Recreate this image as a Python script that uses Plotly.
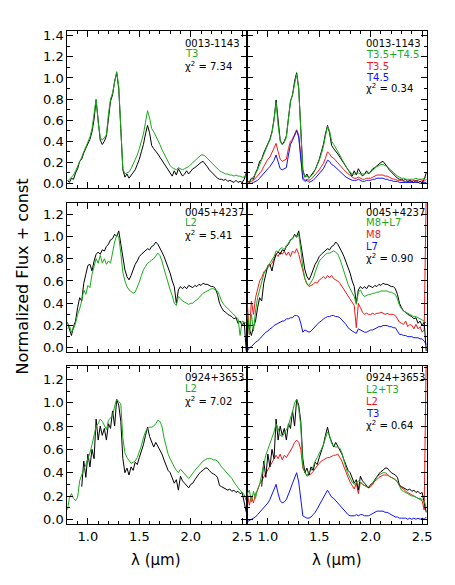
import plotly.graph_objects as go

# ---------------- data ----------------
WL = [0.80, 0.82, 0.84, 0.86, 0.88, 0.90, 0.92, 0.94, 0.96, 0.98,
      1.00, 1.02, 1.04, 1.06, 1.08, 1.10, 1.12, 1.14, 1.16, 1.18,
      1.20, 1.22, 1.24, 1.26, 1.28, 1.30, 1.32, 1.34, 1.36, 1.38,
      1.40, 1.42, 1.44, 1.46, 1.48, 1.50, 1.52, 1.54, 1.56, 1.58,
      1.60, 1.62, 1.64, 1.66, 1.68, 1.70, 1.72, 1.74, 1.76, 1.78,
      1.80, 1.82, 1.84, 1.86, 1.88, 1.90, 1.92, 1.94, 1.96, 1.98,
      2.00, 2.02, 2.04, 2.06, 2.08, 2.10, 2.12, 2.14, 2.16, 2.18,
      2.20, 2.22, 2.24, 2.26, 2.28, 2.30, 2.32, 2.34, 2.36, 2.38,
      2.40, 2.42, 2.44, 2.46, 2.48, 2.50, 2.52, 2.54]

# Row 1: 0013-1143
OBJ_0013 = [0.03, 0.01, 0.05, 0.04, 0.10, 0.14, 0.21, 0.23, 0.29, 0.33,
            0.38, 0.42, 0.49, 0.61, 0.79, 0.56, 0.41, 0.37, 0.40, 0.45,
            0.65, 0.78, 0.84, 0.97, 1.05, 0.90, 0.52, 0.13, 0.06, 0.09,
            0.05, 0.08, 0.10, 0.13, 0.18, 0.23, 0.30, 0.37, 0.47, 0.55,
            0.48, 0.36, 0.33, 0.31, 0.28, 0.25, 0.22, 0.18, 0.15, 0.12,
            0.09, 0.07, 0.12, 0.08, 0.14, 0.11, 0.07, 0.09, 0.12, 0.09,
            0.12, 0.14, 0.15, 0.17, 0.19, 0.20, 0.21, 0.19, 0.16, 0.13,
            0.11, 0.08, 0.07, 0.05, 0.04, 0.04, 0.03, 0.04, 0.02, 0.03,
            0.02, 0.01, 0.03, 0.01, 0.02, 0.01, 0.04, 0.10]
T3_SINGLE = [0.02, 0.04, 0.06, 0.08, 0.12, 0.16, 0.20, 0.25, 0.30, 0.35,
             0.39, 0.44, 0.52, 0.64, 0.80, 0.58, 0.44, 0.41, 0.43, 0.46,
             0.66, 0.80, 0.86, 0.98, 1.06, 0.92, 0.55, 0.14, 0.09, 0.10,
             0.11, 0.14, 0.18, 0.22, 0.27, 0.33, 0.39, 0.47, 0.58, 0.69,
             0.62, 0.52, 0.49, 0.45, 0.42, 0.37, 0.32, 0.28, 0.24, 0.20,
             0.17, 0.15, 0.14, 0.13, 0.15, 0.14, 0.13, 0.14, 0.15, 0.16,
             0.18, 0.20, 0.22, 0.24, 0.26, 0.27, 0.27, 0.26, 0.24, 0.22,
             0.20, 0.18, 0.16, 0.14, 0.12, 0.11, 0.10, 0.09, 0.09, 0.08,
             0.08, 0.07, 0.08, 0.07, 0.07, 0.06, 0.06, 0.09]
T35_T45 = [0.01, 0.02, 0.04, 0.06, 0.09, 0.13, 0.18, 0.22, 0.27, 0.32,
           0.37, 0.41, 0.48, 0.60, 0.77, 0.55, 0.40, 0.37, 0.39, 0.44,
           0.63, 0.78, 0.84, 0.96, 1.04, 0.90, 0.53, 0.12, 0.06, 0.07,
           0.05, 0.07, 0.09, 0.13, 0.17, 0.22, 0.28, 0.35, 0.45, 0.54,
           0.50, 0.40, 0.37, 0.34, 0.30, 0.27, 0.23, 0.19, 0.16, 0.13,
           0.11, 0.09, 0.09, 0.09, 0.10, 0.09, 0.09, 0.09, 0.10, 0.10,
           0.11, 0.13, 0.14, 0.16, 0.17, 0.18, 0.18, 0.17, 0.16, 0.14,
           0.12, 0.10, 0.08, 0.07, 0.06, 0.05, 0.05, 0.04, 0.04, 0.04,
           0.04, 0.04, 0.05, 0.04, 0.04, 0.04, 0.05, 0.06]
T35 = [0.00, 0.01, 0.02, 0.03, 0.05, 0.07, 0.09, 0.12, 0.16, 0.20,
       0.23, 0.25, 0.29, 0.33, 0.38, 0.30, 0.23, 0.21, 0.22, 0.23,
       0.33, 0.40, 0.42, 0.47, 0.51, 0.46, 0.28, 0.06, 0.03, 0.04,
       0.03, 0.04, 0.06, 0.08, 0.10, 0.13, 0.16, 0.19, 0.24, 0.30,
       0.28, 0.25, 0.24, 0.22, 0.20, 0.18, 0.15, 0.13, 0.11, 0.09,
       0.07, 0.06, 0.05, 0.05, 0.06, 0.05, 0.04, 0.04, 0.05, 0.05,
       0.05, 0.06, 0.07, 0.08, 0.08, 0.08, 0.08, 0.07, 0.07, 0.06,
       0.05, 0.04, 0.04, 0.03, 0.03, 0.03, 0.02, 0.02, 0.02, 0.02,
       0.02, 0.03, 0.02, 0.03, 0.04, 0.03, 0.02, 0.04]
T45 = [0.00, 0.00, 0.00, 0.01, 0.02, 0.03, 0.05, 0.07, 0.09, 0.12,
       0.14, 0.16, 0.19, 0.22, 0.27, 0.20, 0.14, 0.13, 0.14, 0.15,
       0.27, 0.37, 0.41, 0.46, 0.50, 0.44, 0.26, 0.04, 0.02, 0.03,
       0.01, 0.02, 0.03, 0.05, 0.07, 0.09, 0.11, 0.14, 0.18, 0.22,
       0.21, 0.18, 0.17, 0.15, 0.13, 0.11, 0.10, 0.08, 0.06, 0.05,
       0.04, 0.03, 0.03, 0.03, 0.04, 0.03, 0.02, 0.02, 0.03, 0.03,
       0.03, 0.04, 0.04, 0.05, 0.05, 0.05, 0.05, 0.04, 0.04, 0.03,
       0.03, 0.02, 0.02, 0.02, 0.01, 0.01, 0.01, 0.01, 0.01, 0.01,
       0.01, 0.01, 0.01, 0.01, 0.00, 0.01, 0.01, 0.01]

# Row 2: 0045+4237
OBJ_0045 = [0.23, 0.17, 0.11, 0.19, 0.24, 0.36, 0.45, 0.42, 0.58, 0.66,
            0.74, 0.75, 0.69, 0.78, 0.84, 0.86, 0.84, 0.88, 0.87, 0.91,
            0.93, 0.97, 0.98, 1.02, 1.00, 1.05, 0.92, 0.82, 0.70, 0.64,
            0.61, 0.65, 0.70, 0.75, 0.78, 0.82, 0.84, 0.86, 0.87, 0.89,
            0.88, 0.91, 0.92, 0.95, 0.93, 0.90, 0.86, 0.82, 0.77, 0.72,
            0.67, 0.60, 0.55, 0.40, 0.52, 0.55, 0.53, 0.55, 0.53, 0.56,
            0.55, 0.54, 0.56, 0.55, 0.57, 0.56, 0.58, 0.57, 0.57, 0.56,
            0.55, 0.55, 0.53, 0.48, 0.40, 0.36, 0.33, 0.32, 0.30, 0.29,
            0.28, 0.26, 0.27, 0.22, 0.24, 0.20, 0.23, -0.03]
L2_ROW2 = [0.17, 0.20, 0.14, 0.17, 0.22, 0.30, 0.35, 0.42, 0.52, 0.48,
           0.56, 0.54, 0.66, 0.72, 0.80, 0.76, 0.83, 0.76, 0.80, 0.75,
           0.78, 0.76, 0.86, 0.95, 1.01, 1.00, 0.85, 0.68, 0.60, 0.55,
           0.52, 0.50, 0.49, 0.50, 0.54, 0.59, 0.65, 0.70, 0.73, 0.76,
           0.77, 0.79, 0.80, 0.83, 0.85, 0.83, 0.78, 0.71, 0.64, 0.58,
           0.52, 0.47, 0.40, 0.38, 0.46, 0.44, 0.42, 0.41, 0.40, 0.39,
           0.40, 0.40, 0.42, 0.43, 0.45, 0.47, 0.49, 0.50, 0.51, 0.52,
           0.53, 0.53, 0.52, 0.51, 0.47, 0.42, 0.39, 0.37, 0.35, 0.34,
           0.32, 0.30, 0.28, 0.26, 0.11, 0.24, 0.23, 0.22]
M8_L7 = [0.32, 0.12, 0.30, 0.15, 0.33, 0.45, 0.52, 0.60, 0.66, 0.70,
         0.73, 0.75, 0.78, 0.82, 0.87, 0.86, 0.89, 0.90, 0.88, 0.92,
         0.94, 0.97, 0.98, 1.01, 0.99, 1.02, 0.88, 0.72, 0.62, 0.57,
         0.56, 0.59, 0.62, 0.68, 0.73, 0.78, 0.80, 0.82, 0.84, 0.85,
         0.85, 0.86, 0.87, 0.86, 0.84, 0.80, 0.74, 0.68, 0.62, 0.57,
         0.53, 0.50, 0.46, 0.39, 0.50, 0.52, 0.48, 0.46, 0.47, 0.48,
         0.48, 0.49, 0.49, 0.50, 0.50, 0.51, 0.51, 0.51, 0.51, 0.50,
         0.50, 0.49, 0.48, 0.44, 0.38, 0.35, 0.33, 0.32, 0.31, 0.30,
         0.29, 0.28, 0.28, 0.27, 0.26, 0.25, 0.24, 0.22]
M8 = [0.40, 0.12, 0.42, 0.30, 0.45, 0.52, 0.60, 0.63, 0.68, 0.70,
      0.72, 0.74, 0.76, 0.80, 0.84, 0.82, 0.86, 0.84, 0.87, 0.83,
      0.86, 0.82, 0.87, 0.85, 0.89, 0.84, 0.76, 0.68, 0.62, 0.58,
      0.55, 0.56, 0.57, 0.59, 0.58, 0.61, 0.62, 0.64, 0.62, 0.65,
      0.63, 0.65, 0.62, 0.61, 0.60, 0.58, 0.55, 0.53, 0.49, 0.46,
      0.44, 0.41, 0.38, 0.18, 0.40, 0.36, 0.32, 0.30, 0.31, 0.30,
      0.30, 0.31, 0.30, 0.31, 0.31, 0.32, 0.31, 0.30, 0.31, 0.30,
      0.30, 0.30, 0.29, 0.26, 0.23, 0.22, 0.21, 0.24, 0.19, 0.21,
      0.20, 0.17, 0.21, 0.17, 0.19, 0.14, 0.16, 1.40]
L7 = [-0.03, 0.00, 0.01, 0.03, 0.05, 0.06, 0.08, 0.10, 0.12, 0.14,
      0.15, 0.17, 0.18, 0.20, 0.21, 0.22, 0.23, 0.24, 0.24, 0.26,
      0.26, 0.27, 0.27, 0.29, 0.29, 0.28, 0.22, 0.14, 0.16, 0.15,
      0.14, 0.15, 0.17, 0.19, 0.21, 0.23, 0.24, 0.26, 0.27, 0.28,
      0.28, 0.29, 0.29, 0.28, 0.28, 0.27, 0.25, 0.23, 0.21, 0.18,
      0.16, 0.15, 0.14, 0.13, 0.17, 0.16, 0.15, 0.14, 0.14, 0.15,
      0.16, 0.16, 0.17, 0.18, 0.19, 0.19, 0.20, 0.20, 0.20, 0.19,
      0.19, 0.18, 0.18, 0.15, 0.12, 0.12, 0.11, 0.11, 0.10, 0.10,
      0.10, 0.09, 0.09, 0.09, 0.08, 0.08, 0.06, 0.03]

# Row 3: 0924+3653
OBJ_0924 = [None, None, None, None, None, None, None, 0.28, 0.50, 0.36,
            0.56, 0.45, 0.60, 0.52, 0.86, 0.68, 0.80, 0.72, 0.78, 0.68,
            0.82, 0.78, 0.93, 0.80, 1.03, 0.98, 0.84, 0.52, 0.40, 0.44,
            0.38, 0.45, 0.42, 0.49, 0.47, 0.53, 0.58, 0.64, 0.72, 0.79,
            0.71, 0.66, 0.62, 0.66, 0.63, 0.60, 0.56, 0.51, 0.46, 0.42,
            0.40, 0.36, 0.31, 0.34, 0.25, 0.37, 0.33, 0.31, 0.29, 0.27,
            0.30, 0.31, 0.34, 0.37, 0.39, 0.41, 0.42, 0.44, 0.44, 0.42,
            0.40, 0.39, 0.38, 0.36, 0.29, 0.28, 0.27, 0.26, 0.25, 0.26,
            0.24, 0.25, 0.23, 0.24, 0.22, 0.23, 0.15, 0.06]
L2_ROW3 = [0.08, 0.18, 0.22, 0.18, 0.16, 0.19, 0.33, 0.39, 0.43, 0.47,
           0.52, 0.57, 0.64, 0.71, 0.80, 0.82, 0.86, 0.84, 0.80, 0.77,
           0.85, 0.87, 0.89, 0.97, 1.03, 1.01, 0.99, 0.70, 0.57, 0.53,
           0.50, 0.48, 0.49, 0.50, 0.53, 0.58, 0.63, 0.70, 0.75, 0.78,
           0.79, 0.79, 0.80, 0.82, 0.85, 0.84, 0.80, 0.70, 0.62, 0.56,
           0.52, 0.48, 0.45, 0.42, 0.40, 0.43, 0.41, 0.39, 0.37, 0.35,
           0.37, 0.40, 0.42, 0.44, 0.46, 0.48, 0.50, 0.51, 0.52, 0.52,
           0.52, 0.51, 0.51, 0.50, 0.47, 0.45, 0.43, 0.41, 0.39, 0.37,
           0.35, 0.32, 0.29, 0.27, 0.25, 0.23, 0.21, 0.16]
L2_T3 = [0.22, 0.25, 0.15, 0.24, 0.18, 0.26, 0.30, 0.38, 0.45, 0.55,
         0.60, 0.66, 0.70, 0.75, 0.82, 0.78, 0.72, 0.71, 0.74, 0.76,
         0.80, 0.87, 0.92, 1.00, 1.03, 0.95, 0.80, 0.45, 0.40, 0.38,
         0.40, 0.42, 0.45, 0.50, 0.53, 0.56, 0.60, 0.64, 0.70, 0.75,
         0.72, 0.65, 0.63, 0.62, 0.62, 0.61, 0.57, 0.50, 0.44, 0.39,
         0.35, 0.32, 0.30, 0.31, 0.33, 0.32, 0.30, 0.29, 0.28, 0.28,
         0.29, 0.31, 0.34, 0.36, 0.38, 0.39, 0.40, 0.40, 0.39, 0.37,
         0.36, 0.35, 0.34, 0.32, 0.28, 0.25, 0.24, 0.23, 0.22, 0.21,
         0.20, 0.20, 0.19, 0.18, 0.18, 0.17, 0.16, 0.10]
L2_COMP = [0.23, 0.12, 0.20, 0.14, 0.22, 0.25, 0.30, 0.33, 0.37, 0.40,
           0.43, 0.46, 0.48, 0.51, 0.55, 0.52, 0.56, 0.51, 0.55, 0.53,
           0.56, 0.58, 0.62, 0.66, 0.68, 0.66, 0.60, 0.44, 0.40, 0.37,
           0.38, 0.39, 0.41, 0.44, 0.46, 0.48, 0.50, 0.51, 0.52, 0.53,
           0.53, 0.54, 0.55, 0.55, 0.56, 0.53, 0.50, 0.45, 0.40, 0.36,
           0.32, 0.29, 0.26, 0.31, 0.22, 0.32, 0.30, 0.29, 0.28, 0.27,
           0.28, 0.30, 0.33, 0.34, 0.36, 0.37, 0.38, 0.38, 0.38, 0.37,
           0.36, 0.35, 0.34, 0.32, 0.29, 0.27, 0.26, 0.24, 0.23, 0.22,
           0.21, 0.20, 0.19, 0.18, 0.17, 0.16, 0.08, 1.40]
T3_COMP = [-0.02, -0.01, 0.00, 0.01, 0.02, 0.04, 0.06, 0.08, 0.10, 0.12,
           0.14, 0.17, 0.21, 0.25, 0.30, 0.22, 0.16, 0.14, 0.15, 0.17,
           0.21, 0.26, 0.31, 0.36, 0.40, 0.32, 0.18, 0.03, 0.02, 0.01,
           0.01, 0.02, 0.04, 0.06, 0.09, 0.12, 0.15, 0.18, 0.22, 0.25,
           0.22, 0.19, 0.18, 0.16, 0.14, 0.12, 0.10, 0.08, 0.06, 0.04,
           0.03, 0.03, 0.03, 0.04, 0.03, 0.04, 0.04, 0.03, 0.03, 0.03,
           0.04, 0.05, 0.06, 0.07, 0.07, 0.07, 0.07, 0.06, 0.06, 0.05,
           0.04, 0.03, 0.02, 0.02, 0.01, 0.01, 0.01, 0.01, 0.00, 0.01,
           0.00, 0.01, 0.00, 0.01, 0.00, 0.01, 0.00, 0.02]

OBJECT_NAMES = ["0013-1143", "0045+4237", "0924+3653"]
SINGLE_NAMES = ["T3", "L2", "L2"]
SINGLE_CHI2 = ["7.34", "5.41", "7.02"]
BINARY_NAMES = ["T3.5+T4.5", "M8+L7", "L2+T3"]
PRIMARY_NAMES = ["T3.5", "M8", "L2"]
SECONDARY_NAMES = ["T4.5", "L7", "T3"]
BINARY_CHI2 = ["0.34", "0.90", "0.64"]

X_RANGE = [0.8, 2.55]
Y_RANGES = [[-0.047, 1.447], [-0.038, 1.304], [-0.042, 1.319]]

OBJECTS = [OBJ_0013, OBJ_0045, OBJ_0924]
SINGLES = [T3_SINGLE, L2_ROW2, L2_ROW3]
BINARIES = [T35_T45, M8_L7, L2_T3]
PRIMARIES = [T35, M8, L2_COMP]
SECONDARIES = [T45, L7, T3_COMP]

# ---------------- styling / layout ----------------
PAGE_MARGIN = 8          # default body margin of the html page
W, H = 455 - PAGE_MARGIN, 585 - PAGE_MARGIN
BLACK = "#000000"
GREEN = "#1aaa1a"
RED = "#f01818"
BLUE = "#1010ff"
FONT = "DejaVu Sans"

COL_PX = [(68, 250), (250, 432)]
ROW_PX = [(29, 188), (202.3, 353), (366.7, 526.7)]


def px_x(p):
    return (p - PAGE_MARGIN) / W


def px_y(p):
    return 1 - (p - PAGE_MARGIN) / H


fig = go.Figure()
layout = dict(
    width=W, height=H,
    margin=dict(l=0, r=0, t=0, b=0),
    paper_bgcolor="white", plot_bgcolor="white",
    showlegend=False,
    font=dict(family=FONT, color="black"),
)

idx = 0
for r in range(3):
    for c in range(2):
        idx += 1
        xa = "xaxis" if idx == 1 else f"xaxis{idx}"
        ya = "yaxis" if idx == 1 else f"yaxis{idx}"
        xr = "x" if idx == 1 else f"x{idx}"
        yr = "y" if idx == 1 else f"y{idx}"
        layout[xa] = dict(
            domain=[px_x(COL_PX[c][0]), px_x(COL_PX[c][1])],
            anchor=yr, range=X_RANGE,
            tickmode="linear", tick0=1.0, dtick=0.5, tickformat=".1f",
            ticks="inside", ticklen=6, tickwidth=1, tickcolor="black",
            minor=dict(ticks="inside", ticklen=3, tickwidth=1, tickcolor="black",
                       tick0=0.8, dtick=0.1, showgrid=False),
            showline=True, linecolor="black", linewidth=1, mirror="allticks",
            showgrid=False, zeroline=False,
            showticklabels=(r == 2),
            tickfont=dict(family=FONT, size=13, color="black"),
        )
        layout[ya] = dict(
            domain=[px_y(ROW_PX[r][1]), px_y(ROW_PX[r][0])],
            anchor=xr, range=Y_RANGES[r],
            tickmode="linear", tick0=0.0, dtick=0.2, tickformat=".1f",
            ticks="inside", ticklen=6, tickwidth=1, tickcolor="black",
            minor=dict(ticks="inside", ticklen=3, tickwidth=1, tickcolor="black",
                       tick0=0.0, dtick=0.1, showgrid=False),
            showline=True, linecolor="black", linewidth=1, mirror="allticks",
            showgrid=False, zeroline=False,
            showticklabels=(c == 0),
            tickfont=dict(family=FONT, size=13, color="black"),
        )
        if c == 0:
            series = [(OBJECTS[r], BLACK), (SINGLES[r], GREEN)]
        else:
            series = [(PRIMARIES[r], RED), (SECONDARIES[r], BLUE),
                      (OBJECTS[r], BLACK), (BINARIES[r], GREEN)]
        for vals, col in series:
            fig.add_trace(go.Scatter(x=WL, y=vals, xaxis=xr, yaxis=yr, mode="lines",
                                     line=dict(color=col, width=1), hoverinfo="skip",
                                     connectgaps=False))

fig.update_layout(**layout)

# ---------------- text ----------------
def label(text, xp, yp, color, size=10):
    fig.add_annotation(text=text, x=px_x(xp), y=px_y(yp), xref="paper", yref="paper",
                       xanchor="left", yanchor="middle", showarrow=False,
                       borderpad=0,
                       font=dict(family=FONT, size=size, color=color))

LEFT_Y = [(41.5, 52.0, 64.5), (212.3, 222.8, 234.5), (378.3, 390.0, 402.5)]
RIGHT_Y = [(41.5, 52.5, 64.7, 75.9, 87.0), (212.3, 222.8, 234.8, 246.3, 257.8),
           (378.3, 390.6, 402.6, 415.0, 426.3)]
LEFT_X, RIGHT_X = 186, 369
for r in range(3):
    ly = LEFT_Y[r]
    label(OBJECT_NAMES[r], LEFT_X, ly[0], BLACK)
    label(SINGLE_NAMES[r], LEFT_X, ly[1], GREEN)
    label("χ<sup>2</sup> = " + SINGLE_CHI2[r], LEFT_X, ly[2], BLACK)
    ry = RIGHT_Y[r]
    label(OBJECT_NAMES[r], RIGHT_X, ry[0], BLACK)
    label(BINARY_NAMES[r], RIGHT_X, ry[1], GREEN)
    label(PRIMARY_NAMES[r], RIGHT_X, ry[2], RED)
    label(SECONDARY_NAMES[r], RIGHT_X, ry[3], BLUE)
    label("χ<sup>2</sup> = " + BINARY_CHI2[r], RIGHT_X, ry[4], BLACK)

fig.add_annotation(text="Normalized Flux + const", x=px_x(23), y=px_y(277),
                   xref="paper", yref="paper", textangle=-90, showarrow=False,
                   xanchor="center", yanchor="middle",
                   font=dict(family=FONT, size=16, color="black"))
for cx in (158, 341):
    fig.add_annotation(text="λ (μm)", x=px_x(cx), y=px_y(563),
                       xref="paper", yref="paper", showarrow=False,
                       xanchor="center", yanchor="middle",
                       font=dict(family=FONT, size=15, color="black"))

fig.write_html("out.html")
